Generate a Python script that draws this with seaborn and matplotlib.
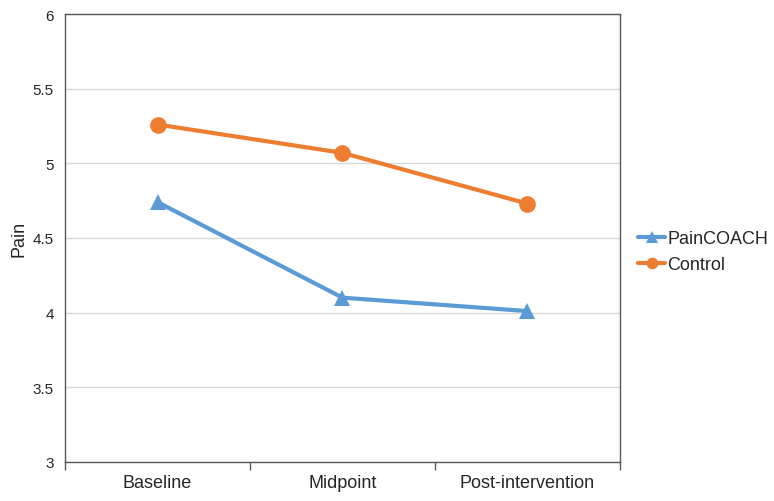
import matplotlib
matplotlib.use("Agg")
import matplotlib.pyplot as plt
import seaborn as sns
import pandas as pd

timepoints = ["Baseline", "Midpoint", "Post-intervention"]
groups = ["PainCOACH", "Control"]
paincoach = [4.74, 4.10, 4.01]
control = [5.26, 5.07, 4.73]

df = pd.DataFrame({
    "time": timepoints * 2,
    "pain": paincoach + control,
    "group": ["PainCOACH"] * 3 + ["Control"] * 3,
})

sns.set_style("white")
plt.rcParams["font.family"] = ["Liberation Sans", "DejaVu Sans"]

fig = plt.figure(figsize=(7.74, 5.02), dpi=100)
ax = fig.add_axes([0.084, 0.078, 0.717, 0.892])

palette = {"PainCOACH": "#5B9BD5", "Control": "#ED7D31"}
markers = {"PainCOACH": "^", "Control": "o"}
sns.lineplot(data=df, x="time", y="pain", hue="group", style="group",
             hue_order=groups, style_order=groups, palette=palette,
             markers=markers, dashes=False, linewidth=3, markersize=12,
             markeredgewidth=0, ax=ax)

ax.set_xlim(-0.5, 2.5)
ax.set_ylim(3, 6)
ax.set_yticks([3, 3.5, 4, 4.5, 5, 5.5, 6])
ax.set_yticklabels(["3", "3.5", "4", "4.5", "5", "5.5", "6"])
ax.yaxis.grid(True, color="#D9D9D9", linewidth=1)
ax.set_axisbelow(True)
ax.set_xticks([-0.5, 0.5, 1.5, 2.5], minor=True)
ax.tick_params(axis="x", which="major", length=0, labelsize=13, pad=9, colors="#262626")
ax.tick_params(axis="x", which="minor", bottom=True, length=6, width=1,
               color="#595959", direction="out")
ax.tick_params(axis="y", length=0, labelsize=11, pad=8, colors="#262626")
for s in ax.spines.values():
    s.set_color("#595959")
    s.set_linewidth(1)

ax.set_xlabel("")
ax.set_ylabel("Pain", fontsize=13, color="#262626", labelpad=4)

ax.legend(loc="center left", bbox_to_anchor=(1.02, 0.47), frameon=False,
          fontsize=13, handlelength=1.5, handletextpad=0.1, labelspacing=0.5,
          borderaxespad=0, markerscale=0.7)

fig.savefig("out.png", dpi=100)
